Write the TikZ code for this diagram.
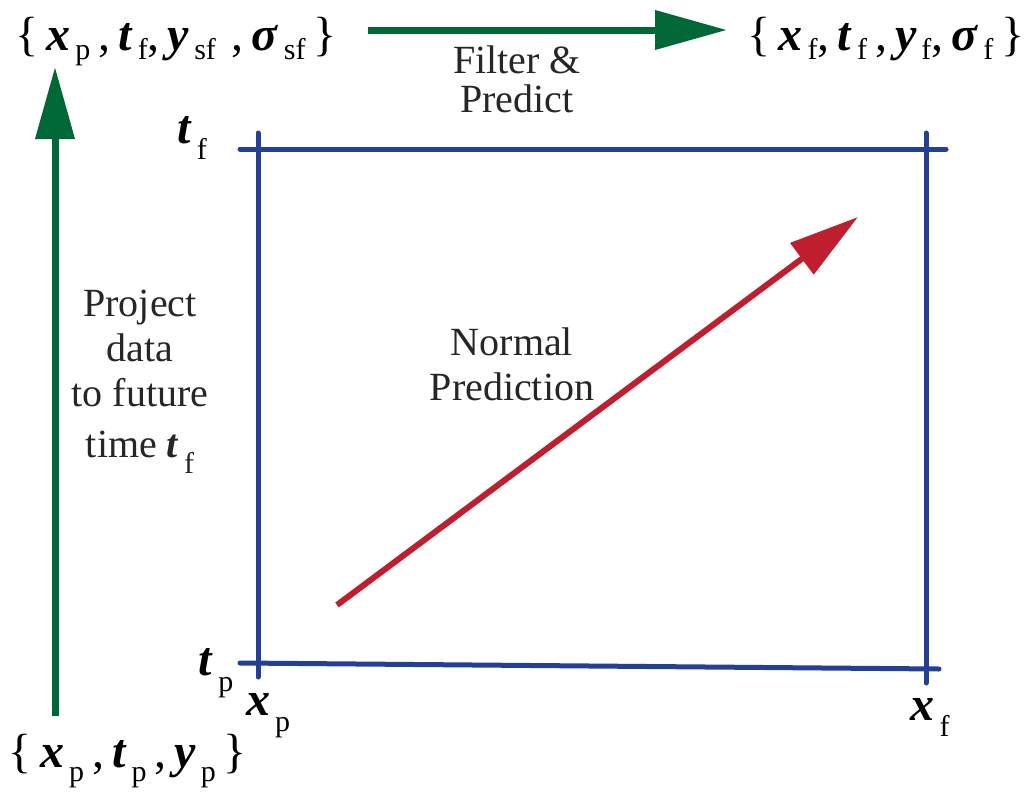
\documentclass[tikz,border=0pt]{standalone}
\usepackage{fontspec}
\setmainfont{Liberation Serif}
\usetikzlibrary{arrows.meta}
\definecolor{tgreen}{RGB}{0,104,55}
\definecolor{tblue}{RGB}{35,64,150}
\definecolor{tred}{RGB}{190,30,45}
\newcommand\bv[3][9pt]{\textbf{\textit{#2}}\raisebox{-#1}{\fontsize{30}{30}\selectfont\,#3}}
\begin{document}
\begin{tikzpicture}[x=1pt,y=-1pt,
  formula/.style={anchor=base,inner sep=0pt,font=\fontsize{48}{52}\selectfont},
  lbl/.style={anchor=base,inner sep=0pt,align=center,font=\fontsize{40}{45}\selectfont,text=black!85},
  greenarrow/.style={draw=tgreen,line width=7pt,-{Triangle[length=72pt,width=38pt]}},
  bluebar/.style={draw=tblue,line width=5pt,line cap=round},
  redarrow/.style={draw=tred,line width=6pt,-{Triangle[length=70pt,width=38pt]}}]
\useasboundingbox (0,0) rectangle (1031,795);
% formulas
\node[formula] (tl) at (176,50) {\{\,\bv{x}{p}\,,\,\bv{t}{f},\,\bv{y}{sf}\,\,,\,\bv{σ}{sf}\,\}};
\node[formula] (tr) at (886,50) {\{\,\bv{x}{f},\,\bv{t}{f}\,,\,\bv{y}{f},\,\bv{σ}{f}\,\}};
\node[formula] (bl) at (128,767) {\{\,\bv[14pt]{x}{p}\,,\,\bv[14pt]{t}{p}\,,\,\bv[14pt]{y}{p}\,\}};
% arrows
\coordinate (ta) at (368,30);
\coordinate (tb) at (727,30);
\draw[greenarrow] (ta) -- (tb);
\coordinate (la) at (55,716);
\coordinate (lb) at (55,67);
\draw[greenarrow] (la) -- (lb);
\node[lbl] (fp) at (517,112) {Filter \&\\[-6pt]Predict};
\node[lbl] (pd) at (140,457) {Project\\data\\to future\\[6pt]time \bv[16pt]{t}{f}};
% box
\coordinate (tl1) at (240,149); \coordinate (tr1) at (946,149);
\coordinate (bl1) at (240,663); \coordinate (br1) at (939,669);
\coordinate (lt1) at (258,133); \coordinate (lb1) at (258,677);
\coordinate (rt1) at (926,133); \coordinate (rb1) at (926,683);
\draw[bluebar] (tl1) -- (tr1);
\draw[bluebar] (bl1) -- (br1);
\draw[bluebar] (lt1) -- (lb1);
\draw[bluebar] (rt1) -- (rb1);
% axis labels
\node[formula] (ltf) at (192,143) {\bv[16pt]{t}{f}};
\node[formula] (ltp) at (216,675) {\bv[16pt]{t}{p}};
\node[formula] (lxp) at (268,715) {\bv[16pt]{x}{p}};
\node[formula] (lxf) at (930,720) {\bv[16pt]{x}{f}};
% red arrow
\coordinate (ra) at (337,605);
\coordinate (rb) at (858,217);
\draw[redarrow] (ra) -- (rb);
\node[lbl] (np) at (512,400) {Normal\\Prediction};
\end{tikzpicture}
\end{document}
